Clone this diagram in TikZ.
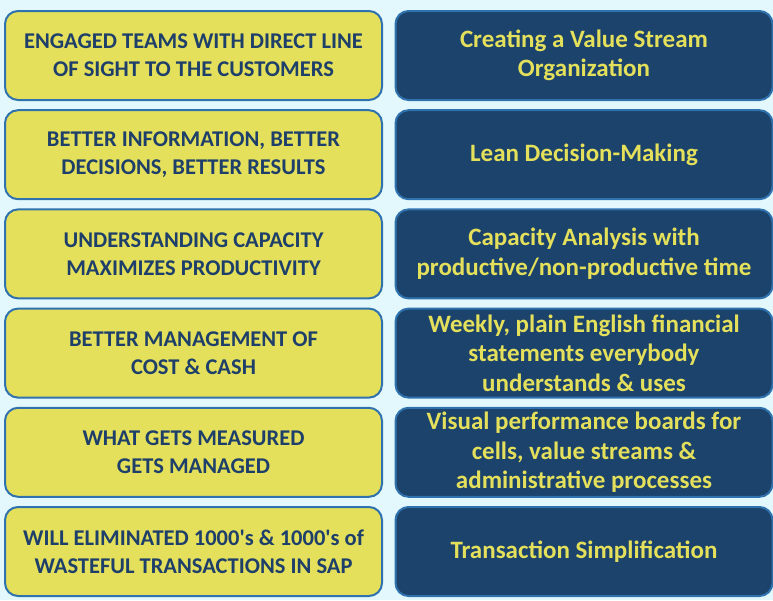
\documentclass[tikz,border=0pt]{standalone}
\usepackage{fontspec}
\setmainfont{Carlito}[Ligatures=TeXOff]
\definecolor{pagebg}{HTML}{E2F8FD}
\definecolor{lemon}{HTML}{E4E05C}
\definecolor{navy}{HTML}{1B436B}
\definecolor{rimblue}{HTML}{2F72AD}
\definecolor{inkblue}{HTML}{1E3F6A}
\begin{document}
\begin{tikzpicture}[x=1pt,y=-1pt,
  panel/.style={rounded corners=13pt, line width=2pt, draw=rimblue,
    minimum width=377pt, minimum height=89pt, anchor=north west,
    align=center, inner sep=0pt},
  benefit/.style={panel, fill=lemon, text=inkblue,
    font=\bfseries\fontsize{22.5}{28}\selectfont},
  practice/.style={panel, fill=navy, text=lemon,
    font=\bfseries\fontsize{25}{29.5}\selectfont}]
\fill[pagebg] (0,0) rectangle (773,600);
\useasboundingbox (0,0) rectangle (773,600);

\node[benefit] (b1) at (4,10) {ENGAGED TEAMS WITH DIRECT LINE\\OF SIGHT TO THE CUSTOMERS};
\node[benefit] (b2) at (4,109.2) {BETTER INFORMATION, BETTER\\DECISIONS, BETTER RESULTS};
\node[benefit] (b3) at (4,208.4) {UNDERSTANDING CAPACITY\\MAXIMIZES PRODUCTIVITY};
\node[benefit] (b4) at (4,307.6) {BETTER MANAGEMENT OF\\COST \& CASH};
\node[benefit] (b5) at (4,406.8) {WHAT GETS MEASURED\\GETS MANAGED};
\node[benefit] (b6) at (4,506) {WILL ELIMINATED 1000's \& 1000's of\\WASTEFUL TRANSACTIONS IN SAP};

\node[practice] (p1) at (394.5,10) {Creating a Value Stream\\Organization};
\node[practice] (p2) at (394.5,109.2) {Lean Decision-Making};
\node[practice] (p3) at (394.5,208.4) {Capacity Analysis with\\productive/non-productive time};
\node[practice] (p4) at (394.5,307.6) {Weekly, plain English financial\\statements everybody\\understands \& uses};
\node[practice] (p5) at (394.5,406.8) {Visual performance boards for\\cells, value streams \&\\administrative processes};
\node[practice] (p6) at (394.5,506) {Transaction Simplification};
\end{tikzpicture}
\end{document}
